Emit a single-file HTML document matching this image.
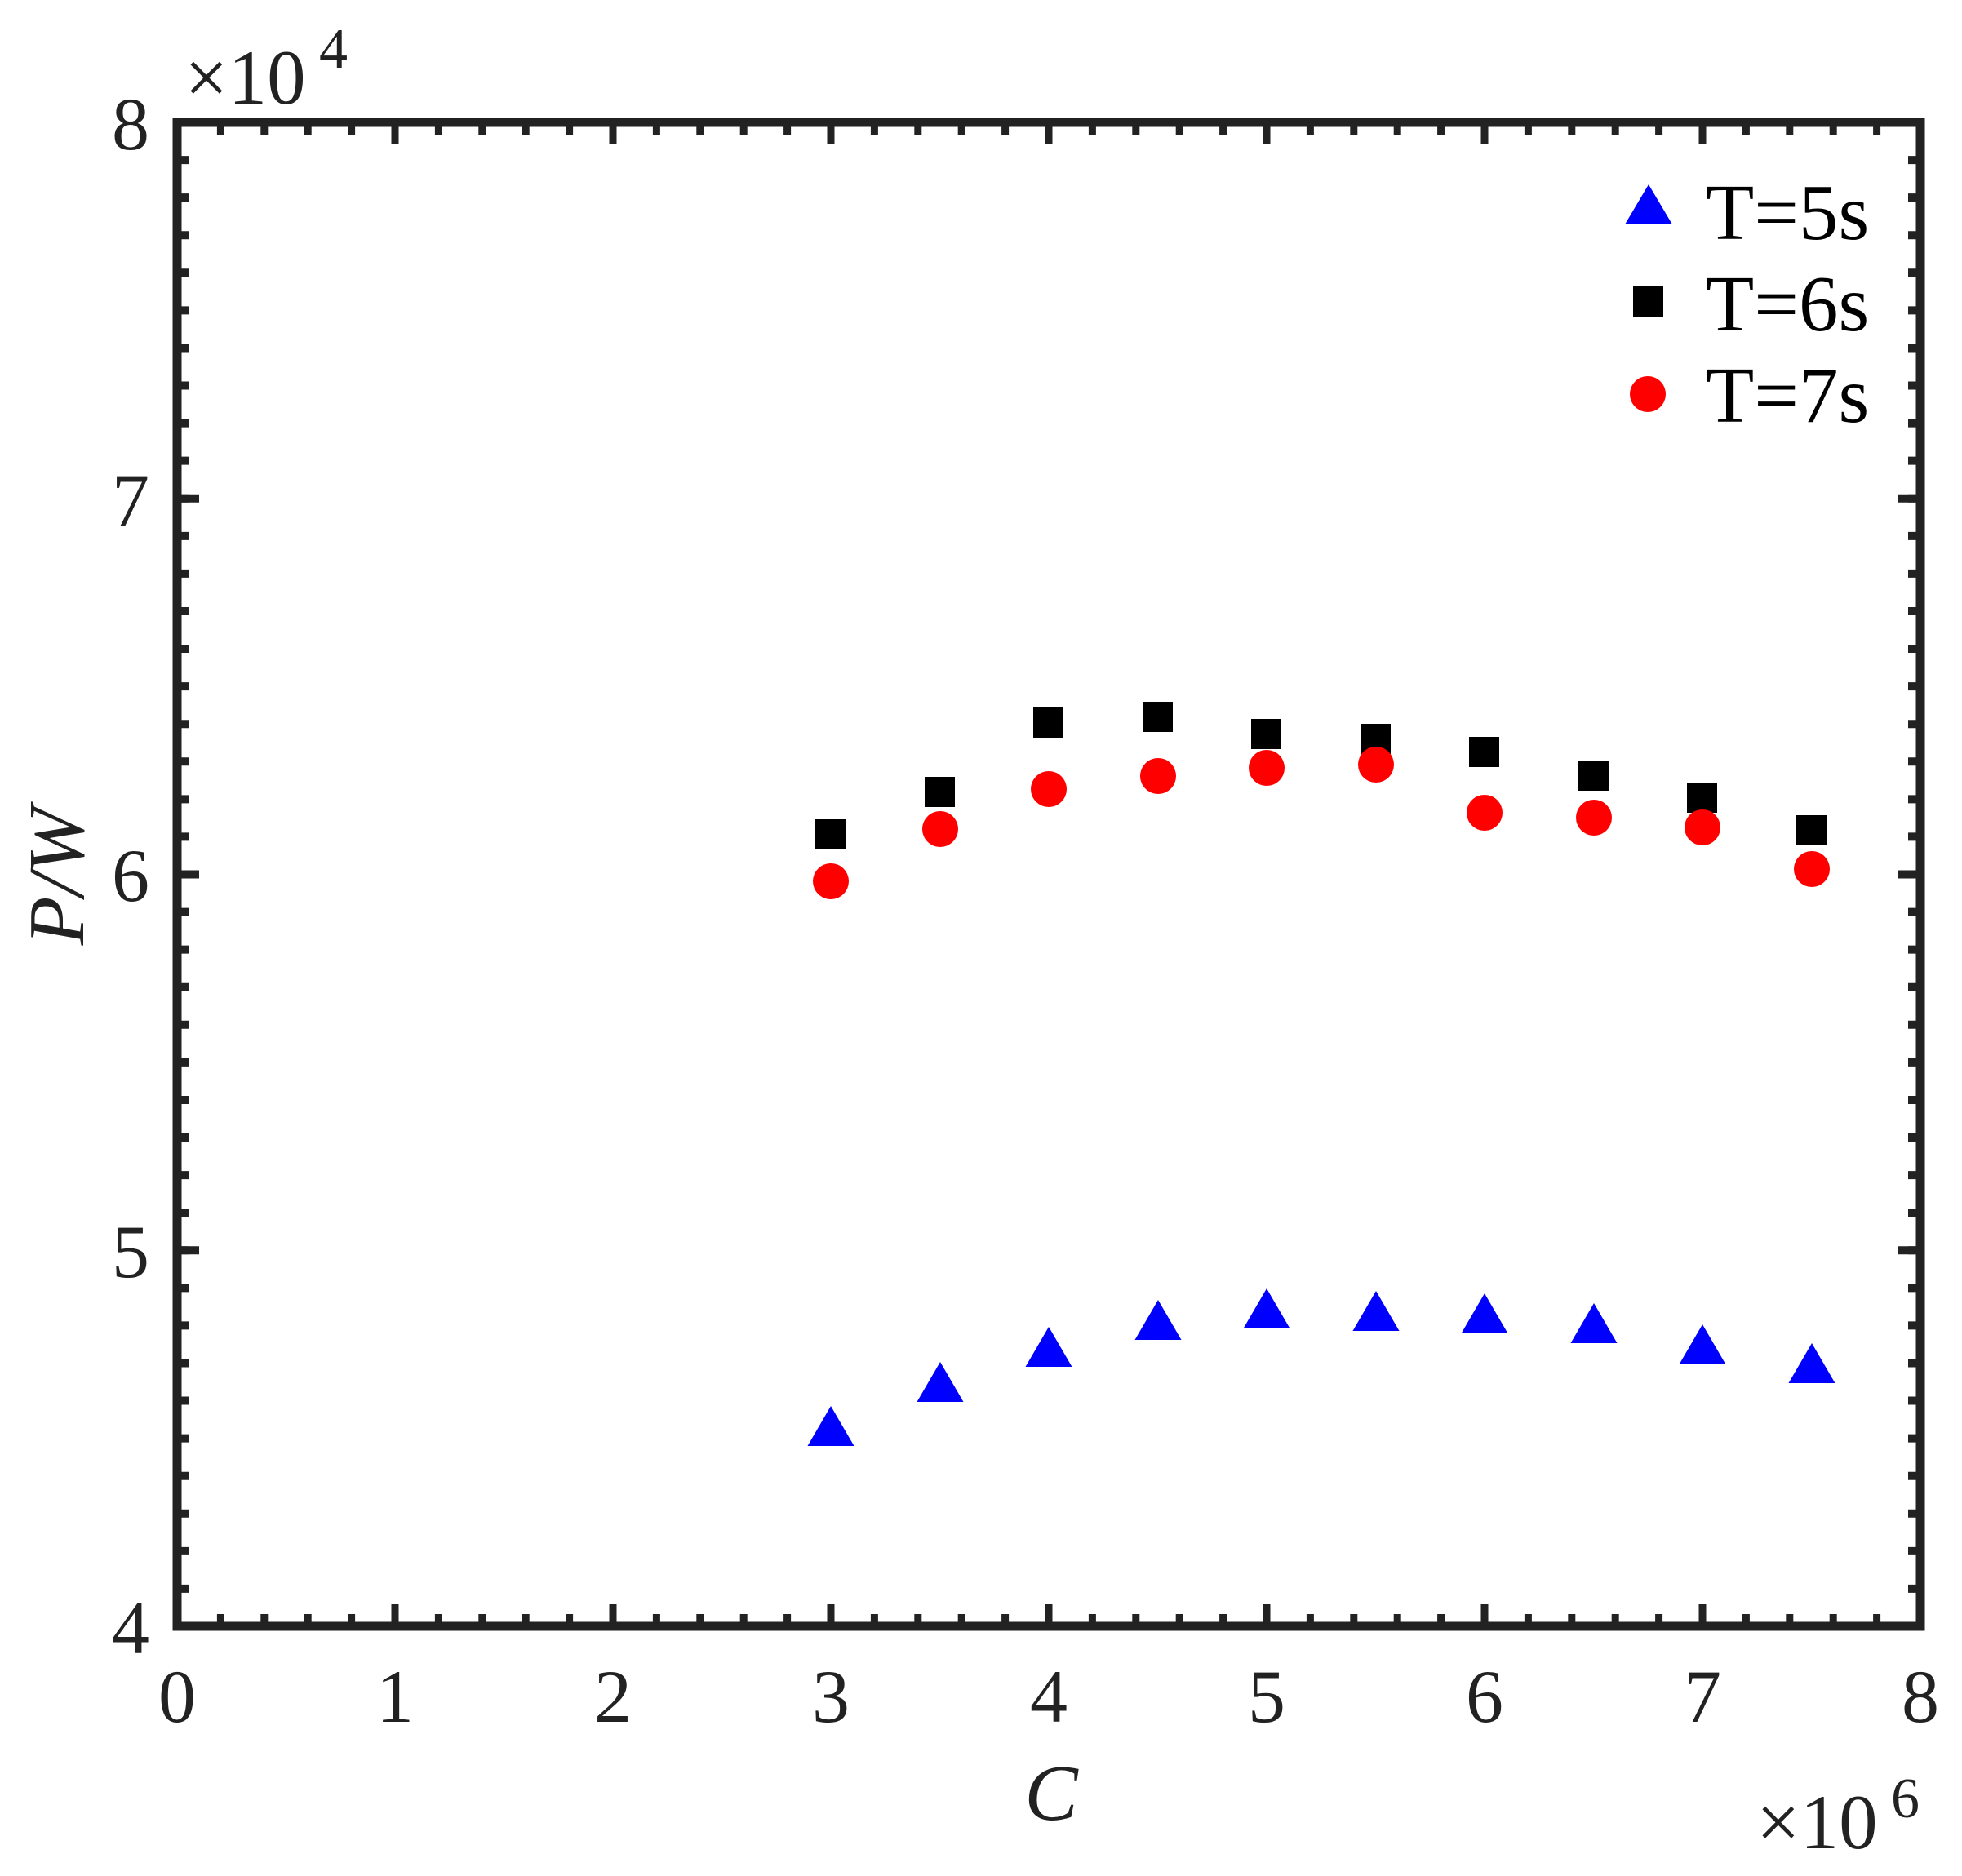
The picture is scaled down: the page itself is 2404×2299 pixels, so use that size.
<!DOCTYPE html>
<html><head><meta charset="utf-8"><style>
html,body{margin:0;padding:0;background:#fff;}
svg{display:block;}
</style></head><body>
<svg width="2404" height="2299" viewBox="0 0 2404 2299" xmlns="http://www.w3.org/2000/svg" font-family="'Liberation Serif', serif">
<rect width="2404" height="2299" fill="#fff"/>
<line x1="227" y1="150" x2="227" y2="1993" stroke="#222" stroke-width="10" stroke-dasharray="10 36.075" stroke-dashoffset="5"/>
<line x1="233" y1="150" x2="233" y2="1993" stroke="#222" stroke-width="22" stroke-dasharray="10 450.75" stroke-dashoffset="5"/>
<line x1="2343" y1="150" x2="2343" y2="1993" stroke="#222" stroke-width="10" stroke-dasharray="10 36.075" stroke-dashoffset="5"/>
<line x1="2337" y1="150" x2="2337" y2="1993" stroke="#222" stroke-width="22" stroke-dasharray="10 450.75" stroke-dashoffset="5"/>
<line x1="217" y1="1983" x2="2353" y2="1983" stroke="#222" stroke-width="10" stroke-dasharray="9 44.4" stroke-dashoffset="4.5"/>
<line x1="217" y1="1977" x2="2353" y2="1977" stroke="#222" stroke-width="22" stroke-dasharray="9 258" stroke-dashoffset="4.5"/>
<line x1="217" y1="160" x2="2353" y2="160" stroke="#222" stroke-width="10" stroke-dasharray="9 44.4" stroke-dashoffset="4.5"/>
<line x1="217" y1="166" x2="2353" y2="166" stroke="#222" stroke-width="22" stroke-dasharray="9 258" stroke-dashoffset="4.5"/>
<rect x="217" y="150" width="2136" height="1843" fill="none" stroke="#222" stroke-width="11"/>
<g font-size="92" text-anchor="end" fill="#222" font-family="'Liberation Serif', serif">
<text x="183" y="183">8</text>
<text x="183" y="644">7</text>
<text x="183" y="1104">6</text>
<text x="183" y="1565">5</text>
<text x="183" y="2026">4</text>
</g>
<g font-size="92" text-anchor="middle" fill="#222" font-family="'Liberation Serif', serif">
<text x="217" y="2110">0</text>
<text x="484" y="2110">1</text>
<text x="751" y="2110">2</text>
<text x="1018" y="2110">3</text>
<text x="1285" y="2110">4</text>
<text x="1552" y="2110">5</text>
<text x="1819" y="2110">6</text>
<text x="2086" y="2110">7</text>
<text x="2353" y="2110">8</text>
</g>
<g fill="#222" font-family="'Liberation Serif', serif">
<text x="226" y="127" font-size="95">×10</text>
<text x="391" y="83" font-size="70">4</text>
<text x="2152" y="2265" font-size="95">×10</text>
<text x="2317" y="2227" font-size="70">6</text>
<text x="1288" y="2230" font-size="98" font-style="italic" text-anchor="middle">C</text>
<text transform="translate(102,1074) rotate(-90)" font-size="98" font-style="italic" text-anchor="middle">P/W</text>
</g>
<g fill="#000">
<rect x="999" y="1004" width="37" height="37"/>
<rect x="1133" y="952" width="37" height="37"/>
<rect x="1266" y="867" width="37" height="37"/>
<rect x="1400" y="860" width="37" height="37"/>
<rect x="1533" y="881" width="37" height="37"/>
<rect x="1667" y="887" width="37" height="37"/>
<rect x="1800" y="903" width="37" height="37"/>
<rect x="1934" y="932" width="37" height="37"/>
<rect x="2067" y="959" width="37" height="37"/>
<rect x="2201" y="999" width="37" height="37"/>
<rect x="2001" y="351" width="37" height="37"/>
</g>
<g fill="#f00">
<circle cx="1018" cy="1080" r="22"/>
<circle cx="1152" cy="1016" r="22"/>
<circle cx="1285" cy="967" r="22"/>
<circle cx="1419" cy="951" r="22"/>
<circle cx="1552" cy="941" r="22"/>
<circle cx="1686" cy="937" r="22"/>
<circle cx="1819" cy="996" r="22"/>
<circle cx="1953" cy="1002" r="22"/>
<circle cx="2086" cy="1014" r="22"/>
<circle cx="2220" cy="1065" r="22"/>
<circle cx="2019" cy="483" r="22"/>
</g>
<g fill="#00f">
<path d="M1018 1723 L1046.5 1772 L989.5 1772Z"/>
<path d="M1152 1669 L1180.5 1718 L1123.5 1718Z"/>
<path d="M1285 1626 L1313.5 1675 L1256.5 1675Z"/>
<path d="M1419 1593 L1447.5 1642 L1390.5 1642Z"/>
<path d="M1552 1579 L1580.5 1628 L1523.5 1628Z"/>
<path d="M1686 1582 L1714.5 1631 L1657.5 1631Z"/>
<path d="M1819 1585 L1847.5 1634 L1790.5 1634Z"/>
<path d="M1953 1597 L1981.5 1646 L1924.5 1646Z"/>
<path d="M2086 1623 L2114.5 1672 L2057.5 1672Z"/>
<path d="M2220 1646 L2248.5 1695 L2191.5 1695Z"/>
<path d="M2020 226 L2049 275 L1991 275Z"/>
</g>
<g font-size="97" fill="#000" font-family="'Liberation Serif', serif">
<text x="2090" y="293">T=5s</text>
<text x="2090" y="405">T=6s</text>
<text x="2090" y="517">T=7s</text>
</g>
</svg>
</body></html>
